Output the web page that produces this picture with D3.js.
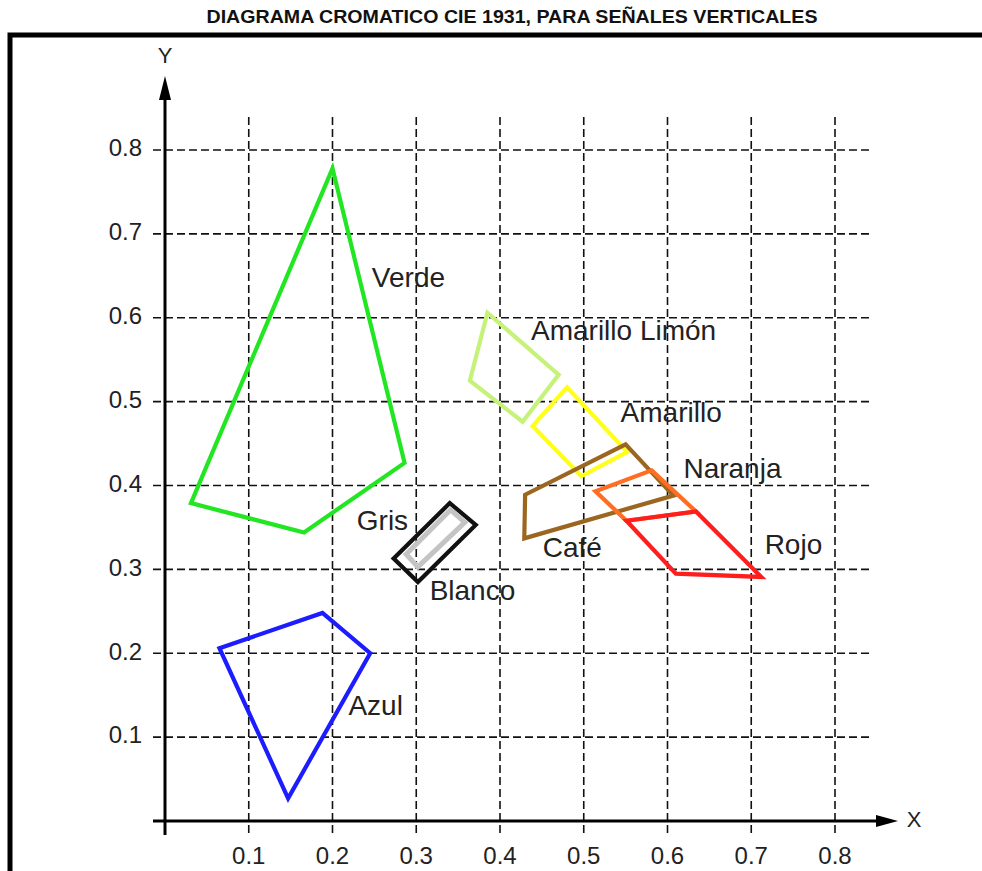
<!DOCTYPE html>
<meta charset="utf-8">
<style>
body { margin: 0; background: #fff; }
text { font-family: "Liberation Sans", Arial, sans-serif; fill: #222; }
.grid { stroke: #111; stroke-width: 1.6px; stroke-dasharray: 8,4; }
.zone { fill: none; stroke-width: 4.2px; stroke-linejoin: miter; }
</style>
<body>
<script src="https://d3js.org/d3.v7.min.js"></script>
<script>
// ticks
var xTicks = [0.1, 0.2, 0.3, 0.4, 0.5, 0.6, 0.7, 0.8];
var yTicks = [0.1, 0.2, 0.3, 0.4, 0.5, 0.6, 0.7, 0.8];

// colour zones (x, y chromaticity corners)
var verde   = [[0.200, 0.778], [0.286, 0.427], [0.166, 0.344], [0.031, 0.379]];
var azul    = [[0.065, 0.206], [0.188, 0.248], [0.245, 0.200], [0.147, 0.027]];
var limon   = [[0.385, 0.606], [0.470, 0.532], [0.427, 0.476], [0.364, 0.525]];
var amarillo = [[0.480, 0.517], [0.552, 0.440], [0.497, 0.411], [0.439, 0.471]];
var cafe    = [[0.550, 0.449], [0.607, 0.388], [0.429, 0.337], [0.430, 0.389]];
var naranja = [[0.581, 0.418], [0.634, 0.369], [0.551, 0.358], [0.514, 0.393]];
var rojo    = [[0.551, 0.358], [0.634, 0.369], [0.712, 0.291], [0.610, 0.295]];
var blanco  = [[0.340, 0.379], [0.371, 0.353], [0.302, 0.285], [0.273, 0.313]];
var gris    = [[0.341, 0.371], [0.358, 0.356], [0.302, 0.303], [0.288, 0.318]];

var zones = [
  {pts: verde, color: "#22e622"},
  {pts: azul, color: "#1c1cff"},
  {pts: limon, color: "#c6f27a"},
  {pts: amarillo, color: "#ffff1a"},
  {pts: cafe, color: "#9a6620"},
  {pts: naranja, color: "#ff6e22"},
  {pts: rojo, color: "#ff1e1e"},
  {pts: blanco, color: "#111111"},
  {pts: gris, color: "#c4c4c4"}
];

// label anchors (left, middle)
var labelNames = ["Verde", "Amarillo Limón", "Amarillo", "Naranja", "Café", "Rojo", "Gris", "Blanco", "Azul"];
var labelPos = [[0.247, 0.645], [0.437, 0.582], [0.544, 0.485], [0.619, 0.418], [0.451, 0.323],
                [0.716, 0.327], [0.229, 0.356], [0.316, 0.272], [0.219, 0.135]];

var x = d3.scaleLinear().domain([0, 0.8]).range([165, 835]);
var y = d3.scaleLinear().domain([0, 0.8]).range([821, 150]);

var svg = d3.select("body").append("svg")
    .attr("width", 982)
    .attr("height", 871);

// title
svg.append("text")
    .attr("x", 512).attr("y", 18)
    .attr("text-anchor", "middle")
    .attr("dominant-baseline", "middle")
    .attr("textLength", 611).attr("lengthAdjust", "spacingAndGlyphs")
    .style("font-weight", "bold").style("font-size", "19px")
    .style("fill", "#111")
    .text("DIAGRAMA CROMATICO CIE 1931, PARA SEÑALES VERTICALES");

// frame
svg.append("path")
    .attr("d", "M10,871 V35 H982")
    .attr("fill", "none").attr("stroke", "#000").attr("stroke-width", 5);

// grid
svg.selectAll(".vgrid").data(xTicks).enter().append("line")
    .attr("class", "grid")
    .attr("x1", d => x(d)).attr("x2", d => x(d))
    .attr("y1", 117).attr("y2", 834);
svg.selectAll(".hgrid").data(yTicks).enter().append("line")
    .attr("class", "grid")
    .attr("y1", d => y(d)).attr("y2", d => y(d))
    .attr("x1", 153).attr("x2", 870);

// axes
svg.append("line")
    .attr("x1", x(0)).attr("x2", x(0))
    .attr("y1", 835).attr("y2", 98)
    .attr("stroke", "#000").attr("stroke-width", 3);
svg.append("line")
    .attr("x1", 153).attr("x2", 880)
    .attr("y1", y(0)).attr("y2", y(0))
    .attr("stroke", "#000").attr("stroke-width", 3);
svg.append("path")
    .attr("d", "M" + x(0) + ",76 L" + (x(0) - 6) + ",100 L" + (x(0) + 6) + ",100 Z")
    .attr("fill", "#000");
svg.append("path")
    .attr("d", "M898," + y(0) + " L876," + (y(0) - 6) + " L876," + (y(0) + 6) + " Z")
    .attr("fill", "#000");

svg.append("text")
    .attr("x", x(0)).attr("y", 57)
    .attr("text-anchor", "middle").attr("dominant-baseline", "middle")
    .style("font-size", "22px").text("Y");
svg.append("text")
    .attr("x", 914).attr("y", y(0))
    .attr("text-anchor", "middle").attr("dominant-baseline", "middle")
    .style("font-size", "22px").text("X");

// tick labels
svg.selectAll(".xlab").data(xTicks).enter().append("text")
    .attr("x", d => x(d)).attr("y", 858)
    .attr("text-anchor", "middle").attr("dominant-baseline", "middle")
    .style("font-size", "24px")
    .text(d => d3.format(".1f")(d));
svg.selectAll(".ylab").data(yTicks).enter().append("text")
    .attr("x", 142).attr("y", d => y(d))
    .attr("text-anchor", "end").attr("dominant-baseline", "middle")
    .style("font-size", "24px")
    .text(d => d3.format(".1f")(d));

// zones
var line = d3.line().x(d => x(d[0])).y(d => y(d[1])).curve(d3.curveLinearClosed);
svg.selectAll(".zone").data(zones).enter().append("path")
    .attr("class", "zone")
    .attr("d", d => line(d.pts))
    .style("stroke", d => d.color)
    .style("stroke-width", (d, i) => i === 8 ? "5px" : null);

// labels
svg.selectAll(".lab").data(labelNames).enter().append("text")
    .attr("x", (d, i) => x(labelPos[i][0]))
    .attr("y", (d, i) => y(labelPos[i][1]))
    .attr("dominant-baseline", "middle")
    .style("font-size", "28px")
    .text(d => d);
</script>
</body>
